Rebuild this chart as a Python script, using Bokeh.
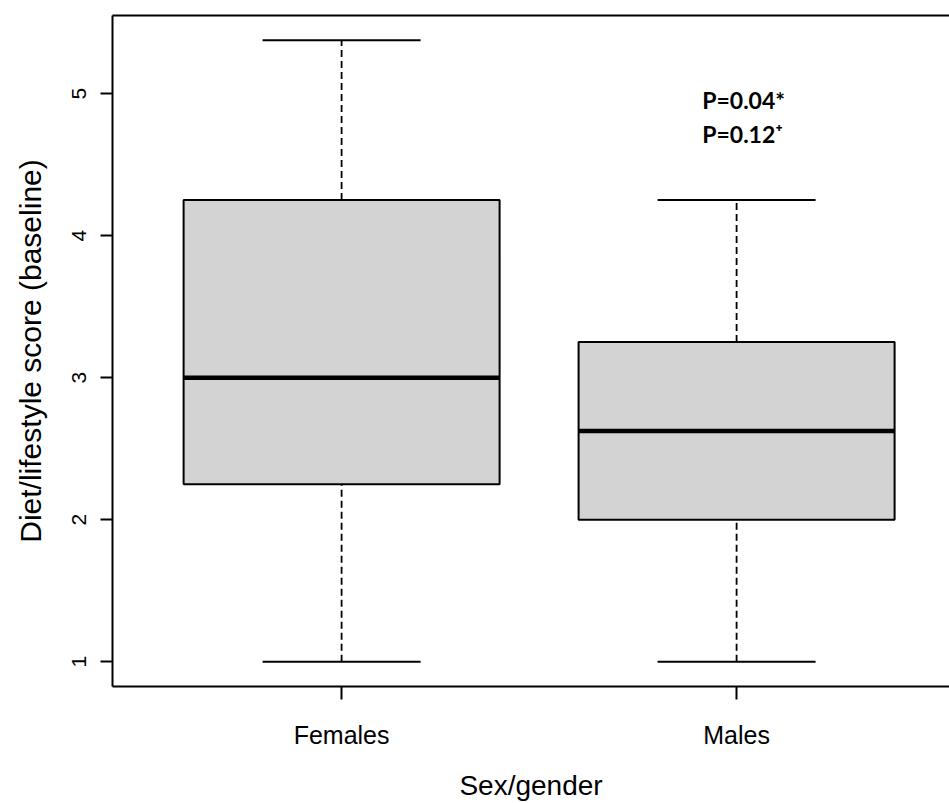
from bokeh.plotting import figure
from bokeh.models import Range1d, FixedTicker, LinearAxis, Label, ColumnDataSource
from bokeh.embed import file_html
from bokeh.resources import INLINE

# Five-number summaries of the baseline diet/lifestyle score
groups = ["Females", "Males"]
positions = [1, 2]
lower = [1.0, 1.0]
q1 = [2.25, 2.0]
median = [3.0, 2.625]
q3 = [4.25, 3.25]
upper = [5.375, 4.25]
y_ticks = [1, 2, 3, 4, 5]
p_labels = ["P=0.04*", "P=0.12\u207a"]

box_w = 0.8
cap_w = 0.4

src = ColumnDataSource(dict(
    x=positions, lower=lower, q1=q1, median=median, q3=q3, upper=upper,
    left=[x - box_w / 2 for x in positions], right=[x + box_w / 2 for x in positions],
    cl=[x - cap_w / 2 for x in positions], cr=[x + cap_w / 2 for x in positions],
))

p = figure(width=949, height=803, output_backend="svg", toolbar_location=None,
           x_range=Range1d(0.42, 2.539), y_range=Range1d(0.825, 5.55),
           x_axis_location=None, y_axis_location=None,
           min_border_left=112, min_border_right=0, min_border_top=15, min_border_bottom=117)
p.grid.visible = False
p.outline_line_color = None
p.background_fill_color = "white"
p.border_fill_color = "white"

FONT = "Liberation Sans"

yax = LinearAxis(ticker=FixedTicker(ticks=y_ticks), axis_label="Diet/lifestyle score (baseline)")
yax.major_label_orientation = "vertical"
xax = LinearAxis(ticker=FixedTicker(ticks=positions), axis_label="Sex/gender")
xax.major_label_overrides = {pos: g for pos, g in zip(positions, groups)}
top = LinearAxis(ticker=FixedTicker(ticks=[]))
top.major_tick_out = 0
top.major_label_standoff = 0
top.major_label_text_font_size = "0px"

for ax in (yax, xax, top):
    ax.axis_line_width = 2
    ax.axis_line_color = "black"
    ax.major_tick_line_width = 2
    ax.major_tick_line_color = "black"
    ax.major_tick_in = 0
    ax.minor_tick_line_color = None
    ax.major_label_text_font = FONT
    ax.major_label_text_color = "black"
    ax.axis_label_text_font = FONT
    ax.axis_label_text_font_style = "normal"
    ax.axis_label_text_color = "black"

yax.major_tick_out = 12
yax.major_label_text_font_size = "21px"
yax.major_label_standoff = 14
yax.axis_label_text_font_size = "30px"
yax.axis_label_standoff = 23

xax.major_tick_out = 13
xax.major_label_text_font_size = "25px"
xax.major_label_standoff = 21
xax.axis_label_text_font_size = "28px"
xax.axis_label_standoff = 18

p.add_layout(yax, "left")
p.add_layout(xax, "below")
p.add_layout(top, "above")

# dashed whiskers
p.segment(x0="x", y0="q3", x1="x", y1="upper", source=src, line_color="black",
          line_width=1.8, line_dash="7 4")
p.segment(x0="x", y0="lower", x1="x", y1="q1", source=src, line_color="black",
          line_width=1.8, line_dash="7 4")
# whisker caps
p.segment(x0="cl", y0="upper", x1="cr", y1="upper", source=src, line_color="black", line_width=2)
p.segment(x0="cl", y0="lower", x1="cr", y1="lower", source=src, line_color="black", line_width=2)
# boxes
p.quad(left="left", right="right", bottom="q1", top="q3", source=src,
       fill_color="#D3D3D3", line_color="black", line_width=2)
# medians
p.segment(x0="left", y0="median", x1="right", y1="median", source=src,
          line_color="black", line_width=4.5)

# significance notes
for txt, yv in zip(p_labels, [4.958, 4.716]):
    p.add_layout(Label(x=1.913, y=yv, text=txt, text_font="Lato", text_font_style="bold",
                       text_font_size="23px", text_color="black",
                       text_align="left", text_baseline="alphabetic"))

open("out.html", "w").write(file_html(p, INLINE))
